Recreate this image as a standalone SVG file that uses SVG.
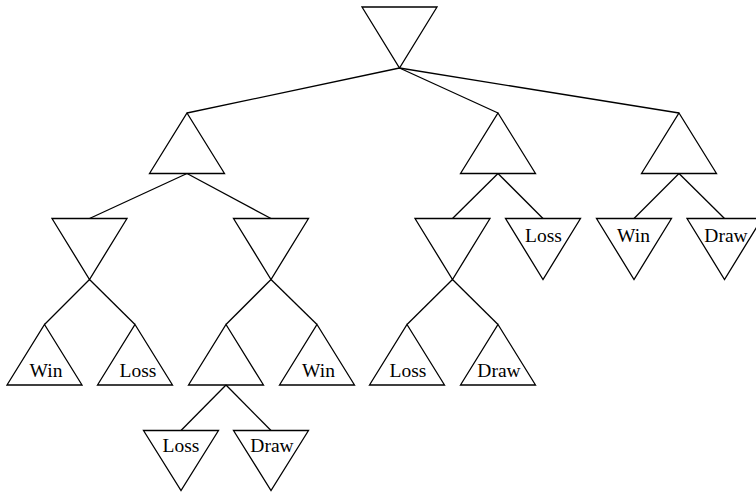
<svg xmlns="http://www.w3.org/2000/svg" width="756" height="493" viewBox="0 0 756 493">
<style>
.t{fill:none;stroke:#000;stroke-width:1.3;stroke-linejoin:miter}
.e{fill:none;stroke:#000;stroke-width:1.3}
text{font-family:"Liberation Serif","Times New Roman",serif;font-size:19.5px;fill:#000;text-anchor:middle}
</style>
<rect width="756" height="493" fill="#fff"/>
<g id="edges">
<line class="e" x1="399.5" y1="68" x2="187" y2="113"/>
<line class="e" x1="399.5" y1="68" x2="498" y2="113"/>
<line class="e" x1="399.5" y1="68" x2="679" y2="113"/>
<line class="e" x1="187" y1="173.5" x2="89.5" y2="218.5"/>
<line class="e" x1="187" y1="173.5" x2="271" y2="218.5"/>
<line class="e" x1="498" y1="173.5" x2="452.5" y2="218.5"/>
<line class="e" x1="498" y1="173.5" x2="543" y2="218.5"/>
<line class="e" x1="679" y1="173.5" x2="634" y2="218.5"/>
<line class="e" x1="679" y1="173.5" x2="724.5" y2="218.5"/>
<line class="e" x1="89.5" y1="279.5" x2="44.5" y2="324.5"/>
<line class="e" x1="89.5" y1="279.5" x2="135" y2="324.5"/>
<line class="e" x1="271" y1="279.5" x2="226" y2="324.5"/>
<line class="e" x1="271" y1="279.5" x2="317" y2="324.5"/>
<line class="e" x1="452.5" y1="279.5" x2="407" y2="324.5"/>
<line class="e" x1="452.5" y1="279.5" x2="498" y2="324.5"/>
<line class="e" x1="226" y1="385" x2="181" y2="430.5"/>
<line class="e" x1="226" y1="385" x2="271" y2="430.5"/>
</g>
<g id="root"><polygon class="t" points="362,7 437,7 399.5,68"/></g>
<g id="max1"><polygon class="t" points="187,113 224.5,173.5 149.5,173.5"/></g>
<g id="max2"><polygon class="t" points="498,113 535.5,173.5 460.5,173.5"/></g>
<g id="max3"><polygon class="t" points="679,113 716.5,173.5 641.5,173.5"/></g>
<g id="min1"><polygon class="t" points="52,218.5 127,218.5 89.5,279.5"/></g>
<g id="min2"><polygon class="t" points="233.5,218.5 308.5,218.5 271,279.5"/></g>
<g id="min3"><polygon class="t" points="415,218.5 490,218.5 452.5,279.5"/></g>
<g id="min4"><polygon class="t" points="505.5,218.5 580.5,218.5 543,279.5"/><text x="543.5" y="241.7">Loss</text></g>
<g id="min5"><polygon class="t" points="596.5,218.5 671.5,218.5 634,279.5"/><text x="633.5" y="241.7">Win</text></g>
<g id="min6"><polygon class="t" points="687,218.5 762,218.5 724.5,279.5"/><text x="726" y="241.7">Draw</text></g>
<g id="leaf1"><polygon class="t" points="44.5,324.5 82,385 7,385"/><text x="46" y="377.3">Win</text></g>
<g id="leaf2"><polygon class="t" points="135,324.5 172.5,385 97.5,385"/><text x="138" y="377.3">Loss</text></g>
<g id="max4"><polygon class="t" points="226,324.5 263.5,385 188.5,385"/></g>
<g id="leaf3"><polygon class="t" points="317,324.5 354.5,385 279.5,385"/><text x="318.5" y="377.3">Win</text></g>
<g id="leaf4"><polygon class="t" points="407,324.5 444.5,385 369.5,385"/><text x="408" y="377.3">Loss</text></g>
<g id="leaf5"><polygon class="t" points="498,324.5 535.5,385 460.5,385"/><text x="499" y="377.3">Draw</text></g>
<g id="leaf6"><polygon class="t" points="143.5,430.5 218.5,430.5 181,490.5"/><text x="181" y="451.7">Loss</text></g>
<g id="leaf7"><polygon class="t" points="233.5,430.5 308.5,430.5 271,490.5"/><text x="272" y="451.7">Draw</text></g>
</svg>
